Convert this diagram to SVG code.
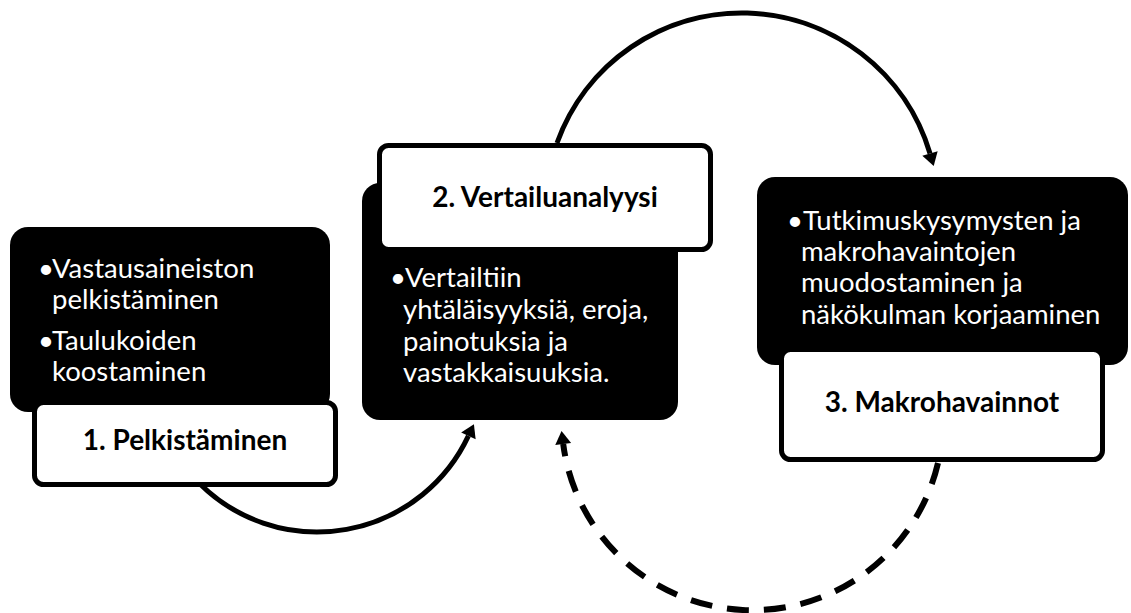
<svg xmlns="http://www.w3.org/2000/svg" width="1131" height="613" viewBox="0 0 1131 613">
<style>
.blk{fill:#000;}
.lbl{fill:#fff;stroke:#000;stroke-width:5;}
.body{font-family:Lato,"Liberation Sans",sans-serif;font-size:27.5px;fill:#fff;}
.head{font-family:Lato,"Liberation Sans",sans-serif;font-size:28px;font-weight:bold;fill:#000;text-anchor:middle;}
.conn{fill:none;stroke:#000;stroke-width:5;}
.dash{stroke-width:6;stroke-dasharray:22 15;}
</style>
<defs>
<marker id="arr" markerUnits="userSpaceOnUse" markerWidth="14" markerHeight="16" refX="0" refY="8" orient="auto" overflow="visible">
<path d="M0,0 L13,8 L0,16 z" fill="#000"/>
</marker>
</defs>
<rect width="1131" height="613" fill="#fff"/>
<g id="connectors">
<path class="conn" d="M200,484 A167,167 0 0 0 468.4,435.9" marker-end="url(#arr)"/>
<path class="conn" d="M557,143 A196.3,196.3 0 0 1 930,153.5" marker-end="url(#arr)"/>
<path class="conn dash" d="M938,463 A190.7,190.7 0 0 1 563.2,443.9" marker-end="url(#arr)"/>
</g>
<g id="node1">
<rect class="blk" x="10" y="227" width="320" height="185" rx="18"/>
<text class="body" x="38" y="278">•<tspan x="52">Vastausaineiston</tspan><tspan x="52" y="309">pelkistäminen</tspan></text>
<text class="body" x="38" y="350">•<tspan x="52">Taulukoiden</tspan><tspan x="52" y="381">koostaminen</tspan></text>
<rect class="lbl" x="34.5" y="402.5" width="301" height="82" rx="9"/>
<text class="head" x="185" y="450">1. Pelkistäminen</text>
</g>
<g id="node2">
<rect class="blk" x="362" y="183" width="316" height="237" rx="18"/>
<rect class="lbl" x="379.5" y="145.5" width="331" height="104" rx="9"/>
<text class="head" x="545" y="207">2. Vertailuanalyysi</text>
<text class="body" x="390" y="287">•<tspan x="405">Vertailtiin</tspan><tspan x="403" y="319">yhtäläisyyksiä, eroja,</tspan><tspan x="403" y="351">painotuksia ja</tspan><tspan x="403" y="382">vastakkaisuuksia.</tspan></text>
</g>
<g id="node3">
<rect class="blk" x="757" y="177" width="371" height="188" rx="18"/>
<text class="body" x="787" y="230">•<tspan x="803">Tutkimuskysymysten ja</tspan><tspan x="801" y="261">makrohavaintojen</tspan><tspan x="801" y="292">muodostaminen ja</tspan><tspan x="801" y="324">näkökulman korjaaminen</tspan></text>
<rect class="lbl" x="781.5" y="349.5" width="321" height="110" rx="9"/>
<text class="head" x="942" y="412">3. Makrohavainnot</text>
</g>
</svg>
